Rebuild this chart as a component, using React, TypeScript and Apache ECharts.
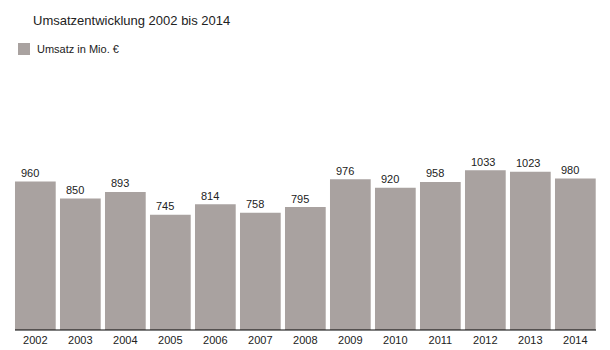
import React, { useEffect, useRef } from "react";
import * as echarts from "echarts";

const years = ["2002", "2003", "2004", "2005", "2006", "2007", "2008", "2009", "2010", "2011", "2012", "2013", "2014"];
const umsatz = [960, 850, 893, 745, 814, 758, 795, 976, 920, 958, 1033, 1023, 980];
const seriesName = "Umsatz in Mio. €";
const titleText = "Umsatzentwicklung 2002 bis 2014";

export default function App() {
  const ref = useRef<HTMLDivElement>(null);
  useEffect(() => {
    if (!ref.current) return;
    const chart = echarts.init(ref.current, null, { renderer: "svg" });
    const font = "'Liberation Sans', Arial, sans-serif";
    chart.setOption({
      animation: false,
      backgroundColor: "#ffffff",
      title: {
        text: titleText,
        left: 28,
        top: 9,
        textStyle: { fontFamily: font, fontSize: 13, fontWeight: "normal", color: "#222" },
      },
      legend: {
        left: 13,
        top: 38,
        itemWidth: 12,
        itemHeight: 12,
        itemGap: 10,
        icon: "rect",
        data: [seriesName],
        textStyle: { fontFamily: font, fontSize: 11, color: "#222", padding: [0, 0, 0, 2] },
      },
      grid: { left: 12.85, right: 12.15, top: 144.5, bottom: 20, containLabel: false },
      xAxis: {
        type: "category",
        data: years,
        axisLine: { show: false },
        axisTick: { show: false },
        axisLabel: { fontFamily: font, fontSize: 11, color: "#222", margin: 4 },
      },
      yAxis: {
        type: "value",
        min: 0,
        max: 1200,
        show: false,
        splitLine: { show: false },
      },
      graphic: [
        {
          type: "line",
          shape: { x1: 15, y1: 330, x2: 596, y2: 330 },
          style: { stroke: "#000", lineWidth: 1 },
          z: 10,
        },
      ],
      series: [
        {
          name: seriesName,
          type: "bar",
          data: umsatz,
          barCategoryGap: "9.5%",
          itemStyle: { color: "#a9a2a0" },
          label: {
            show: true,
            position: [6, -3],
            align: "left",
            verticalAlign: "bottom",
            fontFamily: font,
            fontSize: 11,
            color: "#222",
          },
        },
      ],
    });
    return () => chart.dispose();
  }, []);
  return <div ref={ref} style={{ position: "absolute", left: 0, top: 0, width: 610, height: 350 }} />;
}
